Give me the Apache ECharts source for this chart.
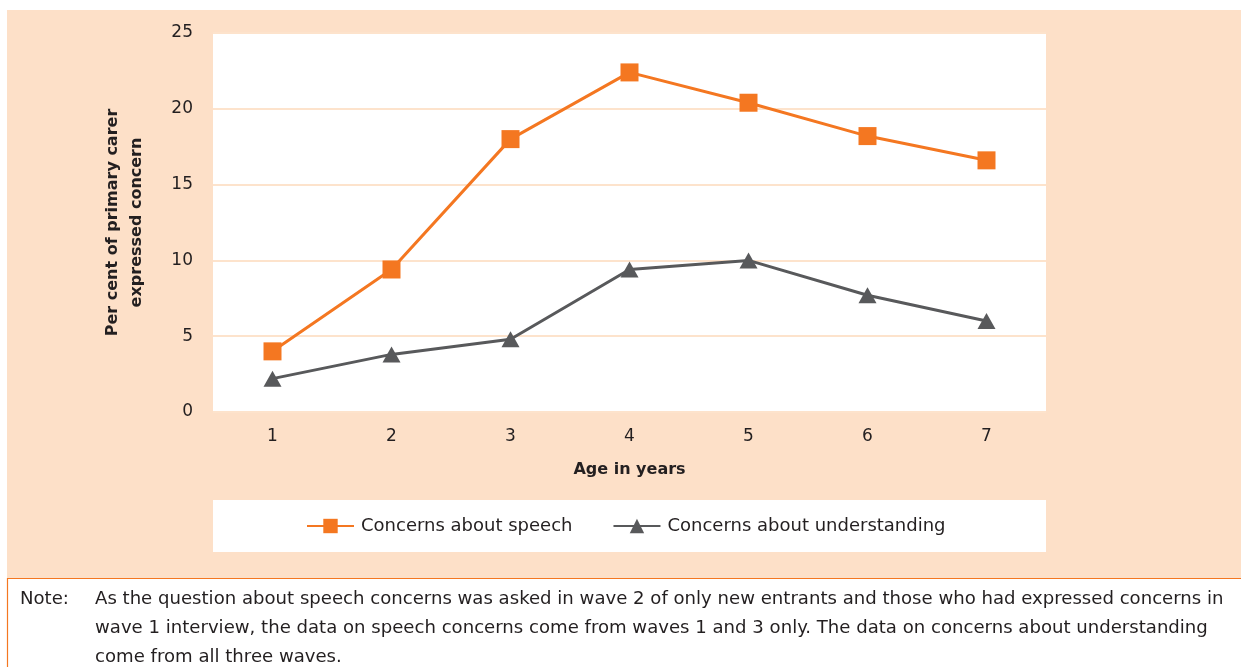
<!DOCTYPE html>
<html>
<head>
<meta charset="utf-8">
<script src="https://cdn.jsdelivr.net/npm/echarts@6/dist/echarts.min.js"></script>
<style>
html,body{margin:0;padding:0;background:#fff;}
#chart{width:1241px;height:667px;}
</style>
</head>
<body>
<div id="chart"></div>
<script>
const categories = ['1','2','3','4','5','6','7'];
const speech = [4.0, 9.4, 18.0, 22.4, 20.4, 18.2, 16.6];
const understanding = [2.2, 3.8, 4.8, 9.4, 10.0, 7.7, 6.0];
const seriesNames = ['Concerns about speech', 'Concerns about understanding'];
const yAxisTitle = 'Per cent of primary carer\nexpressed concern';
const xAxisTitle = 'Age in years';
const noteLabel = 'Note:';
const noteLines = [
  'As the question about speech concerns was asked in wave 2 of only new entrants and those who had expressed concerns in',
  'wave 1 interview, the data on speech concerns come from waves 1 and 3 only. The data on concerns about understanding',
  'come from all three waves.'
];

const FONT = '"DejaVu Sans", sans-serif';
const TXT = '#231f20';
const ORANGE = '#f47721';
const GREY = '#58595b';
const PEACH = '#fde0c8';

const chart = echarts.init(document.getElementById('chart'));
const graphics = [
  {type:'rect', z:-10, silent:true, shape:{x:7,y:10,width:1234,height:568}, style:{fill:PEACH}},
  {type:'rect', z:-9, silent:true, shape:{x:213,y:500,width:833,height:52}, style:{fill:'#fff'}},
  {type:'line', z:-8, silent:true, shape:{x1:7,y1:578.5,x2:1241,y2:578.5}, style:{stroke:ORANGE,lineWidth:1.2}},
  {type:'line', z:-8, silent:true, shape:{x1:7.5,y1:578,x2:7.5,y2:667}, style:{stroke:ORANGE,lineWidth:1.2}},
  {type:'text', silent:true, style:{x:20,y:599,text:noteLabel,fill:TXT,font:'18.1px '+FONT,textVerticalAlign:'middle'}}
];
noteLines.forEach((t,i)=>{
  graphics.push({type:'text', silent:true, style:{x:95,y:599+i*29,text:t,fill:TXT,font:'18.1px '+FONT,textVerticalAlign:'middle'}});
});

chart.setOption({
  animation:false,
  textStyle:{fontFamily:FONT},
  graphic:graphics,
  grid:{left:213, right:195, top:33, bottom:255, show:true, backgroundColor:'#fff', borderWidth:0},
  legend:{
    data:[
      {name:seriesNames[0]},
      {name:seriesNames[1]}
    ],
    left:301, top:512, itemWidth:47, itemHeight:18, itemGap:40,
    textStyle:{fontSize:18, color:TXT, fontFamily:FONT, padding:[0,0,0,2]}
  },
  xAxis:{
    type:'category', data:categories, boundaryGap:true,
    axisLine:{show:false}, axisTick:{show:false},
    axisLabel:{fontSize:17, color:TXT, margin:16},
    name:xAxisTitle, nameLocation:'middle', nameGap:50,
    nameTextStyle:{fontSize:16, fontWeight:'bold', color:TXT}
  },
  yAxis:{
    type:'value', min:0, max:25, interval:5,
    axisLine:{show:false}, axisTick:{show:false},
    axisLabel:{fontSize:17, color:TXT, margin:20},
    splitLine:{lineStyle:{color:'#fde3cc', width:2}},
    name:yAxisTitle, nameLocation:'middle', nameGap:64, nameRotate:90,
    nameTextStyle:{fontSize:16, fontWeight:'bold', color:TXT, lineHeight:24, align:'center'}
  },
  series:[
    {name:seriesNames[0], type:'line', data:speech, symbol:'rect', symbolSize:18,
     lineStyle:{color:ORANGE,width:3}, itemStyle:{color:ORANGE}},
    {name:seriesNames[1], type:'line', data:understanding, symbol:'triangle', symbolSize:[18,16],
     lineStyle:{color:GREY,width:3}, itemStyle:{color:GREY}}
  ]
});
</script>
</body>
</html>
